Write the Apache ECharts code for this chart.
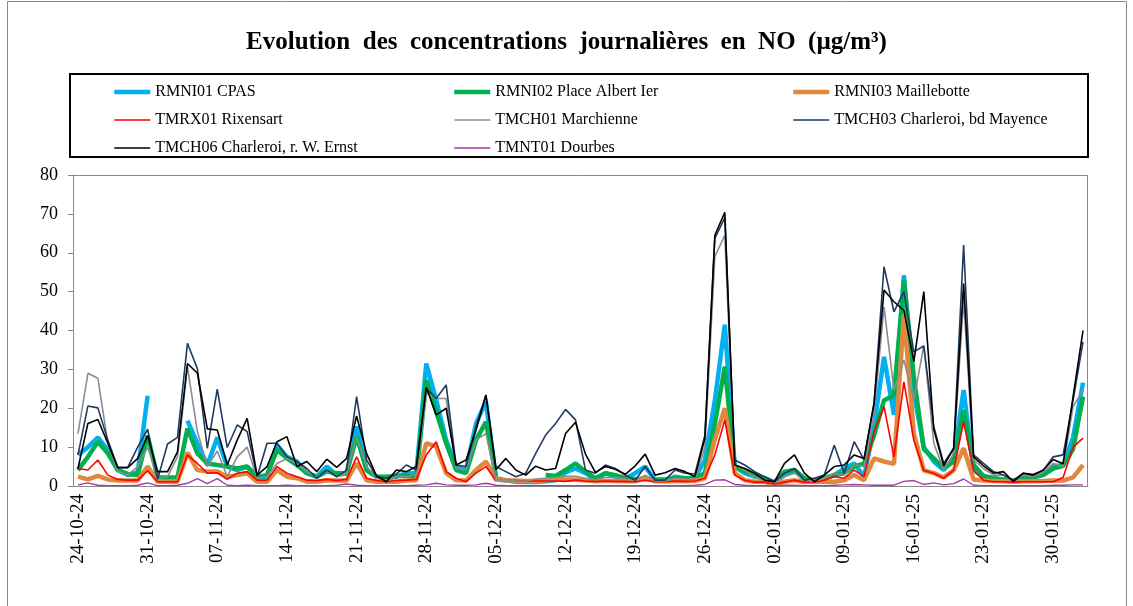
<!DOCTYPE html>
<html><head><meta charset="utf-8">
<script src="https://cdn.jsdelivr.net/npm/echarts@6/dist/echarts.min.js"></script>
<style>html,body{margin:0;padding:0;background:#fff}#c{width:1133px;height:606px}</style>
</head><body><div id="c"></div>
<script>
const categories = [
"24-10-24","25-10-24","26-10-24","27-10-24","28-10-24","29-10-24","30-10-24","31-10-24",
"01-11-24","02-11-24","03-11-24","04-11-24","05-11-24","06-11-24","07-11-24","08-11-24","09-11-24","10-11-24",
"11-11-24","12-11-24","13-11-24","14-11-24","15-11-24","16-11-24","17-11-24","18-11-24","19-11-24","20-11-24",
"21-11-24","22-11-24","23-11-24","24-11-24","25-11-24","26-11-24","27-11-24","28-11-24","29-11-24","30-11-24",
"01-12-24","02-12-24","03-12-24","04-12-24","05-12-24","06-12-24","07-12-24","08-12-24","09-12-24","10-12-24",
"11-12-24","12-12-24","13-12-24","14-12-24","15-12-24","16-12-24","17-12-24","18-12-24","19-12-24","20-12-24",
"21-12-24","22-12-24","23-12-24","24-12-24","25-12-24","26-12-24","27-12-24","28-12-24","29-12-24","30-12-24","31-12-24",
"01-01-25","02-01-25","03-01-25","04-01-25","05-01-25","06-01-25","07-01-25","08-01-25","09-01-25","10-01-25",
"11-01-25","12-01-25","13-01-25","14-01-25","15-01-25","16-01-25","17-01-25","18-01-25","19-01-25","20-01-25",
"21-01-25","22-01-25","23-01-25","24-01-25","25-01-25","26-01-25","27-01-25","28-01-25","29-01-25","30-01-25","31-01-25",
"01-02-25","02-02-25"];

const rmni01 = [8,10,12.5,9.3,4.1,2.8,3.5,23.2,null,null,
null,16.8,11,5.4,12.5,5,4.1,5,2.4,2.4,
10.5,7.5,6.3,3.3,2.4,5,2.8,3.3,15.3,4.1,
2.4,2,2.4,3.3,3.3,31.5,22.1,11.8,5,4.1,
16.1,21.7,2,1.5,1.1,1,1,1.2,1.5,3.5,
4.5,3.3,1.6,3.3,2.4,2,3.3,5,1.5,1.3,
2.4,2,2,6.7,22,41.5,5,3.3,2.4,2,
0.9,2.8,4.1,1.5,1.5,2,2.8,4.5,5.8,2.4,
15.3,33.2,18.3,54.2,23.8,10,6.3,4.1,7,24.7,
4.1,2.4,2,1.5,1.1,2.2,2.2,3.1,5,5.4,
12.5,26.6];

const rmni02 = [4.1,7.5,11.4,8.4,4.1,3.1,2.8,13,2.2,2.2,
2.2,14.8,8.4,5.8,5.4,5,4.5,5,2.4,2.8,
9.3,7.1,5.4,3.3,2.4,3.7,3.3,3.3,12.7,4.1,
2.4,2.4,2.6,2.6,2.4,27.2,19.1,11,4.1,3.3,
11.8,16.5,2.4,null,null,null,null,2.8,2.6,4.1,
5.8,3.7,2,3.3,2.8,2,1.8,1.8,1.7,1.7,
2,2,2,3.3,16,30.7,5,3.7,2.8,2,
0.9,3.7,4.1,2,1.5,2,2.8,3.3,5,5.8,
13,22,23.4,53,28,9.5,7.1,4.6,6.2,19.5,
5.5,2.6,2,1.7,1.4,2,2.2,2.8,4.5,5.2,
9.5,23];

const rmni03 = [2.4,1.7,2.6,1.7,1.4,1.4,1.4,5,1.1,1.1,
1.1,8.6,4.1,3.7,3.7,2.4,2.8,3.3,1.1,1.1,
4.1,2.4,2,1.1,1.1,1.5,1.4,1.4,5.8,1.5,
1.1,1.1,1.1,1.4,1.5,11,10.1,3.3,1.5,1.4,
4.1,6.3,1.7,1.4,1.4,1.3,1.3,1.5,1.6,1.7,
1.7,1.4,1.2,1.3,1.3,1.2,1.2,2,1.2,1.2,
1.3,1.2,1.3,2,12,20,3.3,1.5,1.1,1,
0.5,1.1,1.5,1,1,1.1,1.1,1.5,2.8,1.5,
7.1,6.3,5.7,44,13.5,4,3.3,2.2,4,9.7,
1.7,1.4,1.3,1.2,1.1,1.2,1.2,1.3,1.4,1.4,
2.2,5.4];

const tmrx01 = [4.5,4.1,6.7,2.8,1.7,1.5,1.5,3.9,1.1,1.1,
1.1,8,5.8,3.3,3.4,1.7,3.3,3.7,1.5,1.5,
5,3.3,2.4,1.5,1.4,1.7,1.4,1.7,7.5,2,
1.4,1.1,1.4,1.5,1.7,8,11.4,3.7,2,1.1,
3.3,5,1.5,1.4,1.4,1.3,1.3,1.3,1.3,1.2,
1.5,1.3,1.2,1.3,1.2,1.2,1.1,1.5,1.1,1.1,
1.3,1.2,1.3,2,8,17,2.8,1.5,1,1,
0.5,1,1.5,1,1,1.5,2.4,2,4.1,2.4,
14,20.4,7.5,26.8,11.8,4,3.3,2,4.1,16.5,
4,1.5,1.1,1.1,1,1.1,1.1,1.1,1.1,2.2,
10,12.3];

const tmch01 = [13.5,29,27.7,11,3.7,2.8,5,10,2,2.4,
7.5,30.7,14,5,9,2.4,7.5,10,2,2.4,
5.8,7.1,5.8,3.7,2.4,3.7,2.4,3.3,12.7,5,
2,1.5,2.4,2.4,3,24,22.5,22.5,4.5,4.1,
11.8,13.5,1.5,1.5,1.3,1.3,1.8,2,2.2,2.5,
2.5,2,1.6,2.2,2.2,1.8,1.5,2.8,1.3,1.3,
2,1.8,1.8,10,59,64.5,5.5,4,2.2,1.5,
0.9,2.4,3.3,1.5,1.2,2,3.3,2.8,5.4,5,
18.7,46.1,24.7,32.4,22.1,36.2,11,4.1,8.4,48,
6.7,4.5,2.8,2.8,1.1,2.8,2.4,3.5,5.8,5,
20.4,24.7];

const tmch03 = [8,20.6,20.1,11.8,4.8,4.8,10,14.6,1.7,10.8,
12.5,36.7,30.2,9.7,24.9,9.9,15.7,14,2.4,11,
11,7.5,6.3,4.5,2,4.1,2.4,4.1,23,6.7,
2.4,2,3.1,5.4,4.1,25.1,22.5,26,5.4,5,
15.3,23.4,5,3.7,2.4,3.3,8.4,13.1,16.1,19.7,
17,4.1,3.3,5.4,4.5,2.8,1.5,5,1.5,1.5,
4.1,3.3,3.1,13.1,63.7,69,6.7,5.4,3.7,2.4,
1.1,3.3,4.5,1.5,2,2.8,10.5,3.3,11.4,6.7,
21.3,56.4,44.8,50,34.5,36,15.3,5.8,9.7,62,
8,5.8,3.7,2.8,1.5,3.3,3,4,7.5,8,
22,37.1];

const tmch06 = [4.5,16.1,17.1,11,4.7,4.7,7.1,12.9,3.7,3.7,
8.8,31.5,29,14.7,14.4,5.4,11.8,17.4,2.8,5,
11.4,12.7,5,6.3,3.7,6.9,4.8,7.1,18,8.4,
2.6,1.1,4.1,3.7,5,25.4,18.3,20,5.4,6.7,
14.4,23.4,4.2,7.1,4.1,2.8,5.1,4.1,4.5,13.5,
16.4,8.2,3.5,5,4.3,3,5.2,8.2,2.8,3.4,
4.5,3.7,2.4,12.3,64.5,70.4,5.4,4.5,3.3,1.5,
1.1,5.8,8,3.3,1.1,2.8,5,5.4,8,7.1,
21.3,50.4,47.4,45.2,32,50,14.5,5.2,9.7,52.1,
7.5,5.2,3.3,3.7,1.1,3.3,2.8,4.1,6.8,5.7,
23,40];

const tmnt01 = [0.3,0.8,0.2,0.1,0.1,0.1,0.2,0.8,0.1,0.1,
0.2,0.7,1.9,0.6,1.9,0.2,0.1,0.2,0.1,0.1,
0.1,0.2,0.1,0.1,0.1,0.1,0.2,0.5,0.2,0.1,
0.1,0.1,0.1,0.1,0.2,0.3,0.7,0.3,0.2,0.2,
0.3,0.7,0.2,0.1,0.1,0.1,0.1,0.1,0.1,0.1,
0.1,0.1,0.1,0.1,0.1,0.1,0.1,0.1,0.1,0.1,
0.1,0.1,0.2,0.4,1.5,1.6,0.4,0.2,0.1,0.1,
0.1,0.2,0.2,0.1,0.1,0.1,0.2,0.3,0.4,0.3,
0.2,0.2,0.2,1.2,1.4,0.4,0.8,0.3,0.6,1.8,
0.2,0.1,0.1,0.1,0.1,0.1,0.1,0.1,0.2,0.2,
0.3,0.3];

const yTicks = [0,10,20,30,40,50,60,70,80];

const names = ["RMNI01 CPAS","RMNI02 Place Albert Ier","RMNI03 Maillebotte","TMRX01 Rixensart",
  "TMCH01 Marchienne","TMCH03 Charleroi, bd Mayence","TMCH06 Charleroi, r. W. Ernst","TMNT01 Dourbes"];
const values = [rmni01,rmni02,rmni03,tmrx01,tmch01,tmch03,tmch06,tmnt01];
const colors = ["#00B0F0","#00B050","#E0883C","#FF0000","#8C8C8C","#1F3A60","#000000","#A33AA8"];
const widths = [4.5,4.5,4.5,1.6,1.6,1.6,1.6,1.4];

const serif = "Liberation Serif";
const chart = echarts.init(document.getElementById('c'), null, {renderer:'canvas'});

function legendCol(left, data){
  return {left:left, top:79, orient:'vertical', itemGap:12, itemWidth:36, itemHeight:16,
    data:data, selectedMode:false,
    itemStyle:{opacity:0},
    lineStyle:{width:'inherit'},
    textStyle:{fontFamily:serif, fontSize:16, color:'#000'}};
}

chart.setOption({
  animation:false,
  backgroundColor:'#fff',
  title:{text:'Evolution  des  concentrations  journalières  en  NO  (µg/m³)', left:'center', top:25,
    textStyle:{fontFamily:serif, fontWeight:'bold', fontSize:25, color:'#000'}},
  legend:[
    legendCol(107,[names[0],names[3],names[6]]),
    legendCol(447,[names[1],names[4],names[7]]),
    legendCol(786,[names[2],names[5]])
  ],
  graphic:[
    {type:'rect', shape:{x:70,y:74,width:1018,height:83}, style:{fill:'none', stroke:'#000', lineWidth:2}, silent:true},
    {type:'rect', shape:{x:7.5,y:1.5,width:1119,height:640}, style:{fill:'none', stroke:'#888', lineWidth:1}, silent:true},
    {type:'rect', shape:{x:73.5,y:175.5,width:1014,height:311}, style:{fill:'none', stroke:'#888', lineWidth:1}, silent:true, z:-1}
  ],
  grid:{left:73, right:45, top:175, bottom:120, containLabel:false},
  xAxis:{type:'category', data:categories, boundaryGap:true,
    axisLine:{lineStyle:{color:'#888', width:1}},
    axisTick:{interval:0, length:5, lineStyle:{color:'#888'}},
    axisLabel:{interval:6, rotate:90, margin:8, fontFamily:serif, fontSize:19, color:'#000'}},
  yAxis:{type:'value', min:yTicks[0], max:yTicks[yTicks.length-1], interval:10,
    splitLine:{show:false},
    axisLine:{show:true, lineStyle:{color:'#888'}},
    axisTick:{show:true, length:5, lineStyle:{color:'#888'}},
    axisLabel:{margin:15, fontFamily:serif, fontSize:18, color:'#000'}},
  series: names.map((n,k)=>({name:n, type:'line', data:values[k], symbol:'none', showSymbol:false,
    connectNulls:false, lineStyle:{color:colors[k], width:widths[k]}, itemStyle:{color:colors[k]},
    emphasis:{disabled:true}}))
});
</script></body></html>
